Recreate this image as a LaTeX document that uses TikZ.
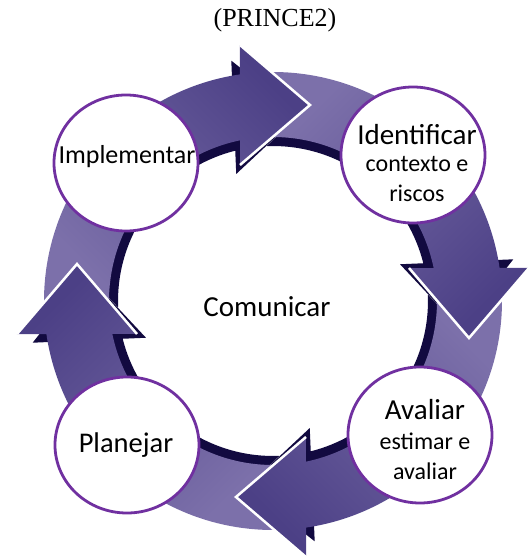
\documentclass[tikz,border=0pt]{standalone}
\usepackage{fontspec}
\setmainfont{Carlito}
\newfontfamily\titlefont{Liberation Serif}
\usetikzlibrary{shapes.geometric,positioning}

\definecolor{arrowdark}{RGB}{76,64,134}
\definecolor{arrowlight}{RGB}{124,112,170}
\definecolor{arrowshadow}{RGB}{18,10,64}
\definecolor{stagepurple}{RGB}{112,48,160}

\tikzset{
    stage/.style={ellipse, draw=stagepurple, line width=2.8pt, fill=white,
        minimum width=144pt, minimum height=136pt, inner sep=0pt},
    bigtext/.style={font=\fontsize{29}{30}\selectfont},
    smalltext/.style={font=\fontsize{24}{30}\selectfont, align=center},
}

% one curved arrow of the cycle (the one that ends at the top)
\newcommand{\cyclearrow}{(180.2:229) arc[start angle=180.2, end angle=98.3, radius=229]
    -- (-33,256) -- (37,196) -- (-33,136) -- (101.6:164)
    arc[start angle=101.6, end angle=179.9, radius=164] -- (169.3:200) -- cycle}

\begin{document}
\begin{tikzpicture}[x=1pt, y=1pt]
    \useasboundingbox (-273,-257) rectangle (259,301);

    % Shadows of the four arrows
    \foreach \k in {0,...,3} {
        \begin{scope}[rotate=-90*\k]
            \fill[arrowshadow, rotate=2.5, scale=0.945] \cyclearrow;
        \end{scope}
    }

    % Arrow faces
    \foreach \k in {0,...,3} {
        \pgfmathtruncatemacro{\ang}{-45-90*\k}
        \begin{scope}[rotate=-90*\k]
            \shade[bottom color=arrowlight, top color=arrowdark, shading angle=\ang] \cyclearrow;
        \end{scope}
    }

    % White edge round the arrow heads
    \foreach \k in {0,...,3} {
        \begin{scope}[rotate=-90*\k]
            \draw[white, line width=2.5pt] (-33,256) -- (37,196) -- (-33,136);
        \end{scope}
    }

    % Stages
    \node[stage] (implementar) at (-147,138) {};
    \node[stage] (identificar) at (140,146) {};
    \node[stage] (avaliar) at (147,-134) {};
    \node[stage] (planejar) at (-146,-144) {};

    \node[font=\fontsize{26}{30}\selectfont] (implementar-txt) at (-146,144) {Implementar};
    \node[smalltext] (identificar-txt) at (144,138) {{\fontsize{29}{30}\selectfont Identificar}\\[-3pt] contexto e\\ riscos};
    \node[smalltext] (avaliar-txt) at (152,-139) {{\fontsize{29}{30}\selectfont Avaliar}\\ estimar e\\ avaliar};
    \node[font=\fontsize{28.5}{30}\selectfont] (planejar-txt) at (-147,-144) {Planejar};

    % Centre
    \node[bigtext] (comunicar) at (-6,-6) {Comunicar};

    \node[font=\titlefont\fontsize{26}{30}\selectfont] (title) at (2,281) {(PRINCE2)};
\end{tikzpicture}
\end{document}
